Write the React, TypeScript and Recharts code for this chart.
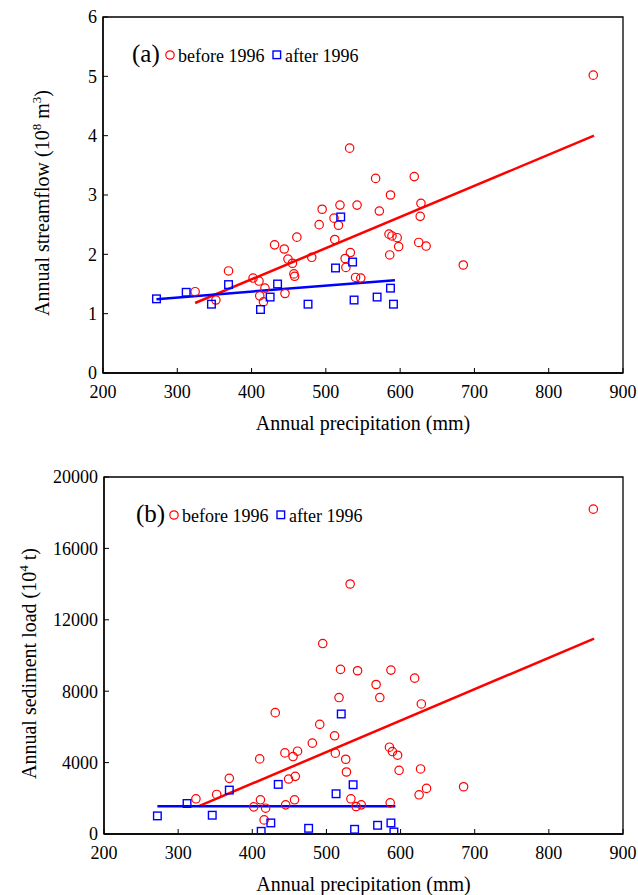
import React from 'react';
import { ScatterChart, Scatter, XAxis, YAxis, ReferenceLine, ReferenceArea } from 'recharts';

// ---------- data ----------
const precipBefore = [324, 352, 369, 402, 410, 411, 416, 418, 431, 444, 445, 449, 455, 457, 458, 461, 481, 491, 495, 511, 512, 517, 519, 526, 527, 532, 533, 540, 542, 547, 567, 572, 585, 586, 587, 589, 596, 598, 619, 625, 627, 628, 635, 685, 860];
const flowBefore = [1.37, 1.23, 1.72, 1.6, 1.55, 1.3, 1.2, 1.43, 2.16, 2.09, 1.34, 1.92, 1.85, 1.67, 1.63, 2.29, 1.95, 2.5, 2.76, 2.61, 2.25, 2.49, 2.83, 1.93, 1.78, 3.79, 2.03, 1.61, 2.83, 1.6, 3.28, 2.73, 2.34, 1.99, 3.0, 2.31, 2.28, 2.13, 3.31, 2.2, 2.64, 2.86, 2.14, 1.82, 5.02];
const sedBefore = [1972, 2216, 3117, 1521, 4207, 1915, 789, 1446, 6798, 4544, 1634, 3080, 4338, 1915, 3230, 4638, 5089, 6141, 10670, 5502, 4526, 7643, 9220, 4188, 3474, 14005, 1972, 1540, 9145, 1634, 8376, 7643, 4864, 1746, 9183, 4620, 4413, 3568, 8732, 2197, 3643, 7286, 2554, 2648, 18200];

const precipAfter = [272, 312, 346, 369, 412, 425, 435, 476, 513, 520, 536, 538, 569, 587, 591];
const flowAfter = [1.25, 1.36, 1.16, 1.49, 1.07, 1.28, 1.5, 1.16, 1.77, 2.63, 1.87, 1.23, 1.28, 1.43, 1.16];
const sedAfter = [1014, 1709, 1052, 2460, 150, 620, 2779, 319, 2254, 6723, 2760, 263, 488, 620, 113];

// fitted trend line end points
const fitFlowBeforeX = [324, 861];
const fitFlowBeforeY = [1.18, 4.0];
const fitFlowAfterX = [272, 593];
const fitFlowAfterY = [1.245, 1.565];
const fitSedBeforeX = [328, 861];
const fitSedBeforeY = [1560, 10950];
const fitSedAfterX = [272, 593];
const fitSedAfterY = [1560, 1560];

const xTicks = [200, 300, 400, 500, 600, 700, 800, 900];
const flowTicks = [0, 1, 2, 3, 4, 5, 6];
const sedTicks = [0, 4000, 8000, 12000, 16000, 20000];

const FONT = '"Liberation Serif", "Times New Roman", Times, serif';

const zip = (xs: number[], ys: number[]) => xs.map((p, i) => ({ p, v: ys[i] }));

const CircleShape = (props: any) =>
  props.cx == null ? null : (
    <circle cx={props.cx} cy={props.cy} r={4.2} fill="none" stroke="#ff0000" strokeWidth={1.2} />
  );
const SquareShape = (props: any) =>
  props.cx == null ? null : (
    <rect x={props.cx - 3.8} y={props.cy - 3.8} width={7.6} height={7.6} fill="none" stroke="#0000ff" strokeWidth={1.4} />
  );

const tickStyle = { fontFamily: FONT, fontSize: 18, fill: '#000', style: { fontFamily: FONT } };

interface PanelProps {
  top: number;
  height: number;
  margin: { top: number; right: number; bottom: number; left: number };
  yMax: number;
  yTicks: number[];
  before: { p: number; v: number }[];
  after: { p: number; v: number }[];
  fitBefore: { p: number; v: number }[];
  fitAfter: { p: number; v: number }[];
  yTitle: React.ReactNode;
  yTitleX: number;
  yTitleShift: number;
}

const Panel = (pp: PanelProps) => (
  <div style={{ position: 'absolute', left: 0, top: pp.top }}>
    <ScatterChart width={638} height={pp.height} margin={pp.margin} style={{ fontFamily: FONT }}>
      <XAxis
        type="number"
        dataKey="p"
        domain={[200, 900]}
        ticks={xTicks}
        allowDataOverflow
        height={60}
        tickSize={-5}
        tickMargin={17}
        tick={tickStyle}
        axisLine={{ stroke: '#000', strokeWidth: 1.3 }}
        tickLine={{ stroke: '#000', strokeWidth: 1 }}
        label={{
          content: (lp: any) => {
            const vb = lp.viewBox || { x: 0, y: 0, width: 0 };
            return (
              <text x={vb.x + vb.width / 2} y={vb.y + 57} textAnchor="middle" fontFamily={FONT} style={{ fontFamily: FONT }} fontSize={20} fill="#000">
                Annual precipitation (mm)
              </text>
            );
          },
        }}
      />
      <YAxis
        type="number"
        dataKey="v"
        domain={[0, pp.yMax]}
        ticks={pp.yTicks}
        allowDataOverflow
        width={60}
        tickSize={-5}
        tickMargin={11}
        tick={tickStyle}
        axisLine={{ stroke: '#000', strokeWidth: 1.3 }}
        tickLine={{ stroke: '#000', strokeWidth: 1 }}
        label={{
          content: (lp: any) => {
            const vb = lp.viewBox || { x: 0, y: 0, height: 0 };
            const cy = vb.y + vb.height / 2 + pp.yTitleShift;
            return (
              <text
                x={pp.yTitleX}
                y={cy}
                transform={`rotate(-90, ${pp.yTitleX}, ${cy})`}
                textAnchor="middle"
                fontFamily={FONT}
                style={{ fontFamily: FONT }}
                fontSize={20}
                fill="#000"
              >
                {pp.yTitle}
              </text>
            );
          },
        }}
      />
      <ReferenceArea x1={200} x2={900} y1={0} y2={pp.yMax} fill="none" fillOpacity={0} stroke="#000" strokeWidth={1.3} />
      <Scatter data={pp.before} shape={CircleShape} isAnimationActive={false} />
      <Scatter data={pp.after} shape={SquareShape} isAnimationActive={false} />
      <ReferenceLine
        segment={[{ x: pp.fitBefore[0].p, y: pp.fitBefore[0].v }, { x: pp.fitBefore[1].p, y: pp.fitBefore[1].v }]}
        stroke="#ff0000"
        strokeWidth={2.5}
      />
      <ReferenceLine
        segment={[{ x: pp.fitAfter[0].p, y: pp.fitAfter[0].v }, { x: pp.fitAfter[1].p, y: pp.fitAfter[1].v }]}
        stroke="#0000ff"
        strokeWidth={2.5}
      />
    </ScatterChart>
  </div>
);

const LegendRow = ({ tag, x, y }: { tag: string; x: number; y: number }) => (
  <g style={{ fontFamily: FONT }}>
    <text x={x} y={y} fontFamily={FONT} fontSize={25} fill="#000">{tag}</text>
    <circle cx={x + 38} cy={y - 7} r={4.2} fill="none" stroke="#ff0000" strokeWidth={1.2} />
    <text x={x + 46} y={y} fontFamily={FONT} fontSize={18} fill="#000">before 1996</text>
    <rect x={x + 141} y={y - 11} width={7.6} height={7.6} fill="none" stroke="#0000ff" strokeWidth={1.4} />
    <text x={x + 153} y={y} fontFamily={FONT} fontSize={18} fill="#000">after 1996</text>
  </g>
);

export default function App() {
  return (
    <div style={{ position: 'absolute', left: 0, top: 0, width: 638, height: 895, background: '#fff', fontFamily: FONT }}>
      <Panel
        top={0}
        height={447}
        margin={{ top: 17, right: 15, bottom: 14, left: 43 }}
        yMax={6}
        yTicks={flowTicks}
        before={zip(precipBefore, flowBefore)}
        after={zip(precipAfter, flowAfter)}
        fitBefore={zip(fitFlowBeforeX, fitFlowBeforeY)}
        fitAfter={zip(fitFlowAfterX, fitFlowAfterY)}
        yTitleX={49}
        yTitleShift={8}
        yTitle={
          <>
            Annual streamflow (10
            <tspan dy={-8} fontSize={13}>8</tspan>
            <tspan dy={8}> m</tspan>
            <tspan dy={-8} fontSize={13}>3</tspan>
            <tspan dy={8}>)</tspan>
          </>
        }
      />
      <Panel
        top={447}
        height={448}
        margin={{ top: 30, right: 15, bottom: 1, left: 44 }}
        yMax={20000}
        yTicks={sedTicks}
        before={zip(precipBefore, sedBefore)}
        after={zip(precipAfter, sedAfter)}
        fitBefore={zip(fitSedBeforeX, fitSedBeforeY)}
        fitAfter={zip(fitSedAfterX, fitSedAfterY)}
        yTitleX={36}
        yTitleShift={8}
        yTitle={
          <>
            Annual sediment load (10
            <tspan dy={-8} fontSize={13}>4</tspan>
            <tspan dy={8}> t)</tspan>
          </>
        }
      />
      <svg width={638} height={895} style={{ position: 'absolute', left: 0, top: 0, pointerEvents: 'none' }}>
        <LegendRow tag="(a)" x={132} y={62} />
        <LegendRow tag="(b)" x={136} y={522} />
      </svg>
    </div>
  );
}
